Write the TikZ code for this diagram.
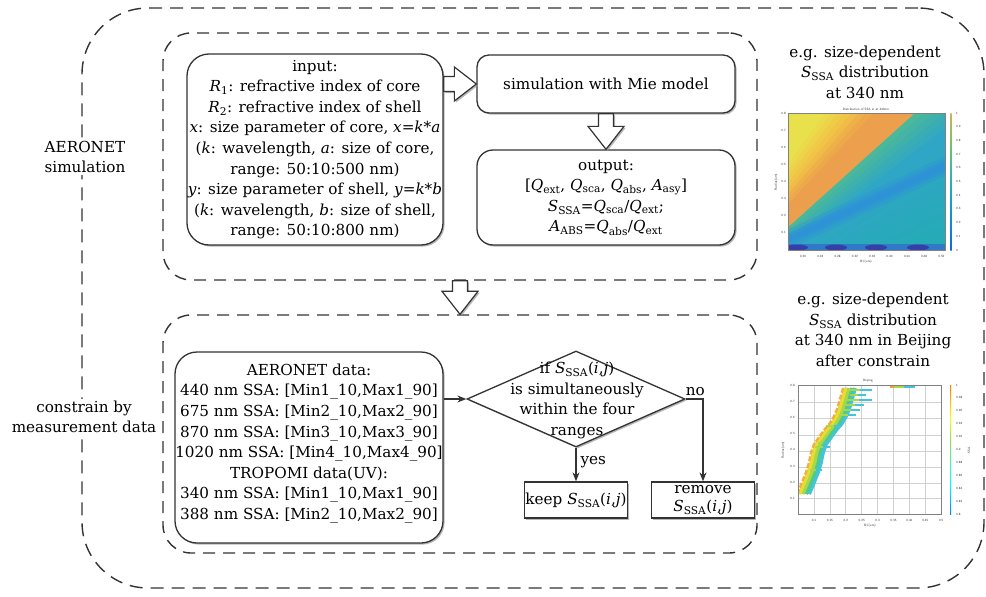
\documentclass[tikz,border=0pt]{standalone}
\usepackage{fontspec}
\setmainfont{DejaVu Serif}
\usetikzlibrary{shapes.geometric,arrows.meta,calc,shadows}
\definecolor{ln}{HTML}{333333}
\definecolor{ha}{HTML}{24ABB4}
\definecolor{hb}{HTML}{2E92D6}
\definecolor{hc}{HTML}{30A6C6}
\definecolor{hd}{HTML}{4AB89A}
\definecolor{he}{HTML}{EC9F4C}
\definecolor{hf}{HTML}{F1C446}
\definecolor{hg}{HTML}{E9E14C}
\definecolor{hdark}{HTML}{3440A8}
\definecolor{jor}{HTML}{F5A030}
\definecolor{jye}{HTML}{E6DE32}
\definecolor{jgy}{HTML}{A8D848}
\definecolor{jgr}{HTML}{50C890}
\definecolor{jcy}{HTML}{40C4E0}
\definecolor{jet1}{HTML}{00008F}
\definecolor{jet6}{HTML}{800000}
\definecolor{par1}{HTML}{352A87}
\definecolor{par2}{HTML}{1268DD}
\definecolor{par3}{HTML}{1AA5C8}
\definecolor{par4}{HTML}{6CC070}
\definecolor{par5}{HTML}{F0B040}
\definecolor{par6}{HTML}{F9F520}
\pgfdeclareverticalshading{jetbar}{10pt}{color(0pt)=(jet1); color(12pt)=(blue); color(37pt)=(cyan); color(55pt)=(jgy); color(62pt)=(yellow); color(87pt)=(red); color(100pt)=(jet6)}
\pgfdeclareverticalshading{parbar}{10pt}{color(0pt)=(par1); color(25pt)=(par2); color(45pt)=(par3); color(62pt)=(par4); color(80pt)=(par5); color(100pt)=(par6)}
\newcommand{\iv}[1]{\textit{#1}}
\newcommand{\lo}[1]{\textsubscript{#1}}
\newcommand{\ssa}{\textit{S}\lo{SSA}}
\newcommand{\blkright}[2]{\draw[blk] ($(#1)+(0,-7.5)$) -- ($(#2)+(-22,-7.5)$) -- ($(#2)+(-22,-17)$) -- (#2) -- ($(#2)+(-22,17)$) -- ($(#2)+(-22,7.5)$) -- ($(#1)+(0,7.5)$) -- cycle;}
\newcommand{\blkdown}[2]{\draw[blk] ($(#1)+(-7.5,0)$) -- ($(#2)+(-7.5,-23)$) -- ($(#2)+(-18,-23)$) -- (#2) -- ($(#2)+(18,-23)$) -- ($(#2)+(7.5,-23)$) -- ($(#1)+(7.5,0)$) -- cycle;}
\begin{document}
\begin{tikzpicture}[x=1pt,y=-1pt,
  font=\fontsize{15.2}{20.6}\selectfont,
  shd/.style={drop shadow={shadow xshift=1.6pt,shadow yshift=-1.6pt,fill=black!40,opacity=0.7}},
  box/.style={draw=ln,line width=1.3pt,fill=white,rounded corners=22pt,align=center,inner sep=0pt,shd},
  sbox/.style={draw=ln,line width=1.3pt,fill=white,align=center,inner sep=0pt,shd},
  grp/.style={draw=ln,line width=1.4pt,dash pattern=on 12pt off 8pt,rounded corners=28pt,inner sep=0pt},
  outer/.style={draw=ln,line width=1.4pt,dash pattern=on 13pt off 8pt,rounded corners=66pt,inner sep=0pt},
  blk/.style={draw=ln,line width=1.2pt,fill=white,line join=miter,shd},
  conn/.style={draw=ln,line width=1.2pt,-{Stealth[length=9pt,width=7pt]}},
  tiny/.style={font=\sffamily\fontsize{3.2}{3.6}\selectfont,inner sep=0pt,text=black!80},
  lbl/.style={align=center,inner sep=1.5pt,fill=white}
]
\useasboundingbox (0,0) rectangle (986,597);
% dashed groups
\node[outer,minimum width=902,minimum height=580] (all) at (533,298) {};
\node[grp,minimum width=594,minimum height=247] (simgrp) at (460,156.5) {};
\node[grp,minimum width=594,minimum height=238] (congrp) at (460,434) {};
\node[lbl] (lab1) at (85,157) {AERONET\\simulation};
\node[lbl] (lab2) at (84,417) {constrain by\\measurement data};
% top group
\node[box,minimum width=256,minimum height=191] (inp) at (315,149.5) {input:\\
\iv{R}\lo{1}: refractive index of core\\
\iv{R}\lo{2}: refractive index of shell\\
\iv{x}: size parameter of core, \iv{x}=\iv{k}*\iv{a}\\
(\iv{k}: wavelength, \iv{a}: size of core,\\
range: 50:10:500 nm)\\
\iv{y}: size parameter of shell, \iv{y}=\iv{k}*\iv{b}\\
(\iv{k}: wavelength, \iv{b}: size of shell,\\
range: 50:10:800 nm)};
\node[box,rounded corners=12pt,minimum width=258,minimum height=58] (sim) at (606,84) {simulation with Mie model};
\node[box,rounded corners=16pt,minimum width=258,minimum height=95] (out) at (606,197.5) {output:\\
{[}\iv{Q}\lo{ext}, \iv{Q}\lo{sca}, \iv{Q}\lo{abs}, \iv{A}\lo{asy}{]}\\
\ssa=\iv{Q}\lo{sca}/\iv{Q}\lo{ext};\\
\iv{A}\lo{ABS}=\iv{Q}\lo{abs}/\iv{Q}\lo{ext}};
\coordinate (a1s) at (inp.east |- sim.west);
\blkright{a1s}{sim.west}
\blkdown{sim.south}{out.north}
\blkdown{simgrp.south}{congrp.north}
% bottom group
\node[box,minimum width=268,minimum height=191] (dat) at (309,447.5) {};
\node[align=center,inner sep=0pt] (datt) at (309,443.5) {AERONET data:\\
440 nm SSA: {[}Min1\_10,Max1\_90{]}\\
675 nm SSA: {[}Min2\_10,Max2\_90{]}\\
870 nm SSA: {[}Min3\_10,Max3\_90{]}\\
1020 nm SSA: {[}Min4\_10,Max4\_90{]}\\
TROPOMI data(UV):\\
340 nm SSA: {[}Min1\_10,Max1\_90{]}\\
388 nm SSA: {[}Min2\_10,Max2\_90{]}};
\node[diamond,draw=ln,line width=1.3pt,fill=white,minimum width=218,minimum height=96,inner sep=0pt,shd] (dec) at (576,399) {};
\node[align=center,inner sep=0pt] (dect) at (577,400.5) {if \ssa(\iv{i},\iv{j})\\is simultaneously\\within the four\\ranges};
\node[sbox,minimum width=103,minimum height=36] (keep) at (576,500) {keep \ssa(\iv{i},\iv{j})};
\node[sbox,minimum width=103,minimum height=36,font=\fontsize{15.2}{18.5}\selectfont] (rem) at (703,500) {remove\\\ssa(\iv{i},\iv{j})};
\draw[conn] (dat.east |- dec.west) -- (dec.west);
\draw[conn] (dec.south) -- node[right,pos=0.42,inner sep=4pt] (yes) {yes} (keep.north);
\draw[conn] (dec.east) -| node[above,pos=0.28,inner sep=3pt] (no) {no} (rem.north);
% right titles
\node[align=center,inner sep=0pt] (t1) at (865,72) {e.g. size-dependent\\\ssa\ distribution\\at 340 nm};
\node[align=center,inner sep=0pt] (t2) at (873,330) {e.g. size-dependent\\\ssa\ distribution\\at 340 nm in Beijing\\after constrain};
% heatmap 1
\begin{scope}
\clip (788,113) rectangle (945,250);
\fill[ha] (788,113) rectangle (945,250);
\foreach \angA/\angB/\colA/\colB in {18/36/ha/hc,36/41/hc/hd,41/42/hd/he,42/46/he/he,46/50/he/hf,50/54/hf/hg,54/92/hg/hg} {
  \pgfmathtruncatemacro{\nn}{\angB-\angA-1}
  \foreach \i in {0,...,\nn} {
    \pgfmathtruncatemacro{\pp}{100*\i/(\angB-\angA)}
    \pgfmathsetmacro{\ang}{\angA+\i}
    \fill[\colB!\pp!\colA] (655,347) -- ({655+500*cos(\ang)},{347-500*sin(\ang)}) -- ({655+500*cos(\ang+1.1)},{347-500*sin(\ang+1.1)}) -- cycle;
  }
}
\draw[hb,line width=18pt,opacity=0.35] (770,248) -- (960,159);
\draw[hb,line width=11pt,opacity=0.6] (770,248) -- (960,159);
\draw[hb,line width=5pt] (770,248) -- (960,159);
\fill[hb!70!hdark] (788,244) rectangle (945,250);
\foreach \xx in {797,836,876,918} {\fill[hdark] (\xx,247.5) ellipse (11 and 3);}
\end{scope}
\draw[black!50,line width=0.3pt] (788,113) rectangle (945,250);
\shade[shading=parbar] (948,113) rectangle (954,250);
\node[tiny] (h1title) at (866,109) {Distribution of SSA in at 340nm};
\foreach \v [count=\k from 0] in {0.8,0.7,0.6,0.5,0.4,0.3,0.2,0.1} {\node[tiny,anchor=east] at (786,113+17.1*\k) {\v};}
\foreach \v [count=\k from 0] in {0.20,0.24,0.28,0.32,0.36,0.40,0.44,0.48,0.52} {\node[tiny] at (803+17.3*\k,256) {\v};}
\foreach \v [count=\k from 0] in {1,0.9,0.8,0.7,0.6,0.5,0.4,0.3,0.2,0.1,0} {\node[tiny,anchor=west] at (956,113+13.7*\k) {\v};}
\node[tiny] (h1xl) at (866,262) {BC(um)};
\node[tiny,rotate=90] (h1yl) at (776,182) {Radius(um)};
% heatmap 2
\fill[white] (798,385) rectangle (941,514);
\foreach \xx in {814,830,845,861,877,893,909,925} {\draw[black!18,line width=0.4pt] (\xx,385) -- (\xx,514);}
\foreach \yy in {402,418,435,451,467,483,498} {\draw[black!18,line width=0.4pt] (798,\yy) -- (941,\yy);}
\begin{scope}
\clip (798,385) rectangle (941,514);
\def\bandpath{(797,494) -- (802,482) -- (806,472) -- (809,462) -- (811,452) -- (814,444) -- (819,437) -- (824,430) -- (830,423) -- (834,416) -- (837,409) -- (839,402) -- (841,395) -- (843,388)}
\draw[jcy,line width=4pt,line join=round,xshift=12pt] \bandpath;
\draw[jgr,line width=4pt,line join=round,xshift=9pt] \bandpath;
\draw[jgy,line width=4pt,line join=round,xshift=5.5pt] \bandpath;
\draw[jye,line width=3.5pt,line join=round,xshift=2.5pt] \bandpath;
\draw[jor,line width=2.2pt,line join=round,dash pattern=on 5pt off 2pt,opacity=0.85] \bandpath;
\foreach \ya/\xa/\xb in {390/848/872,395/850/866,400/846/872,405/846/864,410/842/860,415/840/856,447/815/830,443/818/828,470/810/822,426/826/842} {
  \draw[jcy,line width=2.5pt] (\xa,\ya) -- (\xb,\ya);
  \draw[jgy,line width=2.5pt] (\xa,\ya) -- ({\xa+0.5*(\xb-\xa)},\ya);
}
\draw[jcy,line width=2.5pt] (890,387) -- (915,387);
\draw[jgy,line width=2.5pt] (890,387) -- (904,387);
\draw[jor,line width=2.5pt] (890,387) -- (894,387);
\end{scope}
\draw[black!50,line width=0.3pt] (798,385) rectangle (941,514);
\shade[shading=jetbar] (948,385) rectangle (953,514);
\node[tiny] (h2title) at (868,381) {Beijing};
\foreach \v [count=\k from 0] in {0.8,0.7,0.6,0.5,0.4,0.3,0.2,0.1} {\node[tiny,anchor=east] at (795,385+16.2*\k) {\v};}
\foreach \v [count=\k from 0] in {0.1,0.15,0.2,0.25,0.3,0.35,0.40,0.45,0.5} {\node[tiny] at (814+15.9*\k,520) {\v};}
\foreach \v [count=\k from 0] in {1,0.98,0.96,0.94,0.92,0.9,0.88,0.86,0.84,0.82,0.8} {\node[tiny,anchor=west] at (956,385+12.9*\k) {\v};}
\node[tiny] (h2xl) at (870,526) {BC(um)};
\node[tiny,rotate=90] (h2yl) at (783,450) {Radius(um)};
\node[tiny,rotate=90] (h2cl) at (969,450) {SSA};
\end{tikzpicture}
\end{document}
